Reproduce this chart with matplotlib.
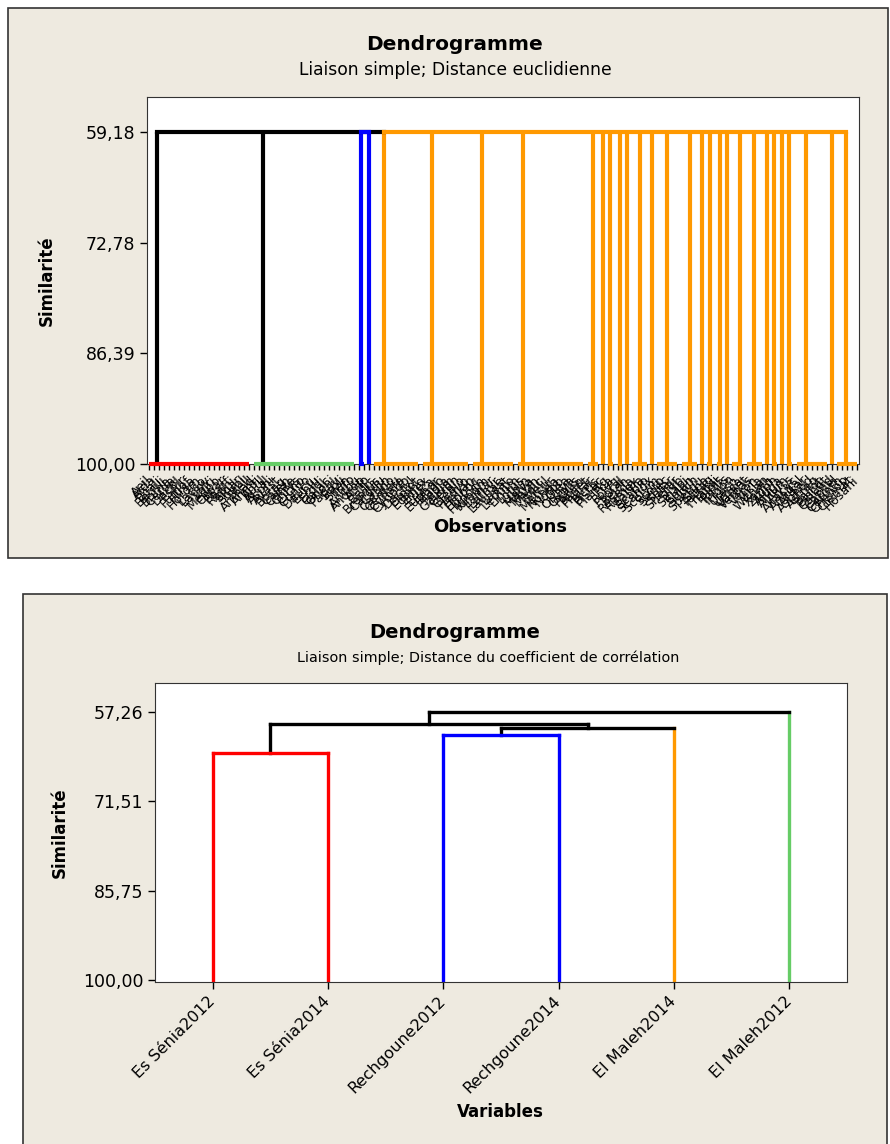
import matplotlib
matplotlib.use("Agg")
import matplotlib.pyplot as plt
from matplotlib.patches import Rectangle

# ---------------- data: top dendrogram (observations) ----------------
top_title = "Dendrogramme"
top_subtitle = "Liaison simple; Distance euclidienne"
top_yticks = [59.18, 72.78, 86.39, 100.00]
top_merge_sim = 59.18
# groups of identical observations (merged at similarity 100), in leaf order
group_sizes = [21, 21, 2, 1, 10, 10, 9, 14, 3, 1, 2, 2, 1, 4, 1, 5, 4, 1, 2, 2, 1, 3, 4, 1, 2, 1, 2, 7, 1, 5]
group_cluster = ["r", "g", "b", "b"] + ["o"] * 26
# leaf (within group) where the group's link rises to the next merge
group_link_leaf = [1.5, 1.8, 0.5, 0, 2, 1.8, 1.8, 1, 1, 0, 0.5, 0.5, 0, 1.5, 0, 2, 1.5, 0, 0.5, 0.5, 0,
                   1.5, 1.5, 0, 0.5, 0, 0.5, 1.8, 0, 1.9]
obs_labels = [
    "Aeil", "Alda", "Bcali", "Betrui", "Brima", "Cerda", "Dacpl", "Eshir", "Fumof", "Hirsa", "Hordm",
    "Lacso", "Lagov", "Lolri", "Medpo", "Orpar", "Pbarf", "Raphi", "Sinar", "Sonol", "Stell",
    "Amhad", "Ammi", "Anfil", "Arcal", "Asphi", "Avast", "Borag", "Calen", "Cente", "Chrys", "Cicho",
    "Convo", "Daucu", "Echiu", "Erodi", "Galac", "Ononi", "Papav", "Scoli", "Silen", "Trifo",
    "Anchu", "Androp", "Atrip",
    "Bellis", "Bromus", "Carduu", "Carlin", "Catapo", "Centau", "Cynara", "Cynodo", "Dactyl", "Diplot",
    "Echino", "Emex", "Eruca", "Euphor", "Filago", "Fedia", "Galium", "Geran", "Glebio", "Hedyp",
    "Helian", "Hippoc", "Hypoch", "Kundm", "Lamar", "Lathyr", "Launae", "Lavat", "Leonto", "Linum",
    "Lotus", "Lupin", "Malva", "Matth", "Medic", "Melil", "Mercur", "Nonea", "Notob", "Olea",
    "Orlaya", "Oxalis", "Pallen", "Pariet", "Phalar", "Picris", "Pistac", "Plantg", "Poa", "Polyg",
    "Psoral", "Reich", "Reseda", "Rumex", "Salvia", "Scabio", "Scandx", "Scolym", "Scorp", "Senec",
    "Setar", "Sherar", "Silyb", "Sinapi", "Solan", "Sonch", "Spergu", "Stipa", "Tetrag", "Thapsi",
    "Tolpis", "Torilis", "Trigon", "Urosp", "Urtica", "Valant", "Verbas", "Veron", "Vicia", "Withan",
    "Xanth", "Ziziph", "Ajuga", "Allium", "Alyss", "Anacyc", "Anagal", "Arisar", "Asphod", "Astrag",
    "Ballot", "Biscut", "Calend", "Capsel", "Cerinth", "Chenop", "Clemat", "Hosahi",
]

# ---------------- data: bottom dendrogram (variables) ----------------
bot_title = "Dendrogramme"
bot_subtitle = "Liaison simple; Distance du coefficient de corrélation"
variables = ["Es Sénia2012", "Es Sénia2014", "Rechgoune2012", "Rechgoune2014", "El Maleh2014", "El Maleh2012"]
var_cluster = ["r", "r", "b", "b", "o", "g"]
bot_yticks = [57.26, 71.51, 85.75, 100.00]
# linkage: (node a, node b, similarity); nodes 0..5 are leaves, 6.. are merges
bot_links = [(0, 1, 63.82), (2, 3, 60.94), (7, 4, 59.82), (6, 8, 59.18), (9, 5, 57.26)]

colors = {"r": "#FF0000", "g": "#66CC66", "b": "#0000FF", "o": "#FF9900", "k": "#000000"}
bg = "#EEEAE0"

W, H = 890, 1144
fig = plt.figure(figsize=(W / 100, H / 100), dpi=100)
fig.patch.set_facecolor("white")

def frect(x0, y0, x1, y1):
    return [x0 / W, 1 - y1 / H, (x1 - x0) / W, (y1 - y0) / H]

# panels
for (x0, y0, x1, y1) in [(8, 8, 888, 558), (23, 594, 887, 1150)]:
    r = frect(x0, y0, x1, y1)
    fig.patches.append(Rectangle((r[0], r[1]), r[2], r[3], transform=fig.transFigure,
                                 facecolor=bg, edgecolor="#333333", lw=1.2, zorder=-5))

lw_top = 3.0
# ---------------- top chart ----------------
ax1 = fig.add_axes(frect(147, 97, 859, 464))
ax1.set_zorder(2)
n = sum(group_sizes)
labels = (obs_labels + [""] * n)[:n]
ax1.set_xlim(-0.5, n - 0.5)
ax1.set_ylim(100.0, top_merge_sim - (100 - top_merge_sim) * 35 / 332)
start = 0
links = []
for size, cl, off in zip(group_sizes, group_cluster, group_link_leaf):
    first, last = start, start + size - 1
    if size > 1:
        ax1.plot([first, last], [100, 100], color=colors[cl], lw=lw_top,
                 solid_capstyle="butt", zorder=3, clip_on=False)
    links.append((first + off, cl))
    start += size
# vertical links
for pos, cl in links:
    c = colors["k"] if cl in ("r", "g") else colors[cl]
    ax1.plot([pos, pos], [100, top_merge_sim], color=c, lw=lw_top, solid_capstyle="butt", zorder=2)
# horizontal joins at top
by_cl = {}
for pos, cl in links:
    by_cl.setdefault(cl, []).append(pos)
first_o = min(by_cl["o"])
ax1.plot([min(by_cl["r"]), first_o], [top_merge_sim] * 2, color="k", lw=lw_top, zorder=2,
         solid_capstyle="projecting")
ax1.plot([min(by_cl["b"]), max(by_cl["b"])], [top_merge_sim] * 2, color=colors["b"], lw=lw_top, zorder=3,
         solid_capstyle="projecting")
ax1.plot([first_o, max(by_cl["o"])], [top_merge_sim] * 2, color=colors["o"], lw=lw_top, zorder=2,
         solid_capstyle="projecting")
ax1.set_yticks(top_yticks)
ax1.set_yticklabels([("%.2f" % v).replace(".", ",") for v in top_yticks], fontsize=12.5)
ax1.set_xticks(range(n))
ax1.set_xticklabels(labels, rotation=45, ha="right", va="center", rotation_mode="anchor", fontsize=9)
ax1.tick_params(axis="x", length=4, width=1, pad=6)
ax1.tick_params(axis="y", length=5, width=1)
ax1.set_ylabel("Similarité", fontsize=12, fontweight="bold", labelpad=14)
for s in ax1.spines.values():
    s.set_color("#333333")
fig.text(500 / W, 1 - 527 / H, "Observations", ha="center", va="center", fontsize=13, fontweight="bold")
fig.text(455 / W, 1 - 45 / H, top_title, ha="center", va="center", fontsize=14.5, fontweight="bold")
fig.text(455 / W, 1 - 70 / H, top_subtitle, ha="center", va="center", fontsize=12.3)

# ---------------- bottom chart ----------------
ax2 = fig.add_axes(frect(155, 683, 847, 982))
ax2.set_zorder(2)
nv = len(variables)
ax2.set_xlim(-0.5, nv - 0.5)
lo = bot_yticks[0]
ax2.set_ylim(100.32, lo - (100 - lo) * 29 / 268)
node_pos = {i: float(i) for i in range(nv)}
node_h = {i: 100.0 for i in range(nv)}
node_cl = {i: var_cluster[i] for i in range(nv)}
lw_b = 2.4
for k, (a, b, sim) in enumerate(bot_links):
    nid = nv + k
    same = node_cl[a] == node_cl[b]
    ccol = colors[node_cl[a]] if same else "k"
    for child in (a, b):
        if child < nv and not same:
            vc = colors[node_cl[child]]
        else:
            vc = ccol
        ax2.plot([node_pos[child]] * 2, [node_h[child], sim], color=vc, lw=lw_b, solid_capstyle="projecting", zorder=2)
    ax2.plot([node_pos[a], node_pos[b]], [sim, sim], color=ccol, lw=lw_b, solid_capstyle="projecting", zorder=3)
    node_pos[nid] = (node_pos[a] + node_pos[b]) / 2
    node_h[nid] = sim
    node_cl[nid] = node_cl[a] if same else "k"
ax2.set_yticks(bot_yticks)
ax2.set_yticklabels([("%.2f" % v).replace(".", ",") for v in bot_yticks], fontsize=12.5)
ax2.set_xticks(range(nv))
ax2.set_xticklabels(variables, rotation=45, ha="right", va="center", rotation_mode="anchor", fontsize=11.5)
ax2.tick_params(axis="x", length=5, width=1, pad=7)
ax2.tick_params(axis="y", length=5, width=1)
ax2.set_ylabel("Similarité", fontsize=12, fontweight="bold", labelpad=10)
for s in ax2.spines.values():
    s.set_color("#333333")
fig.text(500 / W, 1 - 1112 / H, "Variables", ha="center", va="center", fontsize=12, fontweight="bold")
fig.text(455 / W, 1 - 633 / H, bot_title, ha="center", va="center", fontsize=14, fontweight="bold")
fig.text(488 / W, 1 - 658 / H, bot_subtitle, ha="center", va="center", fontsize=10.4)

fig.savefig("out.png", dpi=100)
